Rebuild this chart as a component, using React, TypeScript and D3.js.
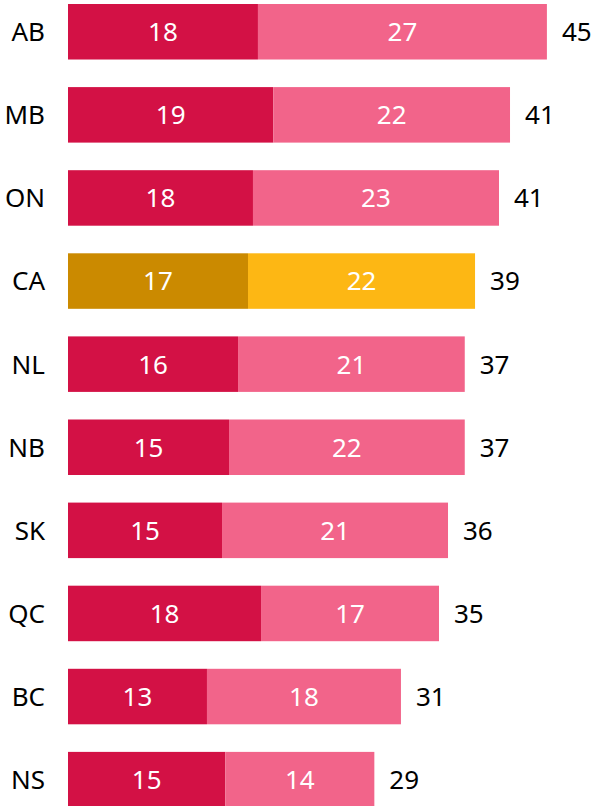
import React from 'react';
import * as d3 from 'd3';

// provinces, top to bottom
const provinces = ['AB', 'MB', 'ON', 'CA', 'NL', 'NB', 'SK', 'QC', 'BC', 'NS'];

// first (dark) and second (light) segment
const firstValues = [17.92, 19.37, 17.45, 16.98, 16.04, 15.19, 14.53, 18.21, 13.11, 14.84];
const secondValues = [27.26, 22.33, 23.21, 21.42, 21.39, 22.24, 21.32, 16.79, 18.30, 14.06];

// labels as printed on the chart
const firstLabels = ['18', '19', '18', '17', '16', '15', '15', '18', '13', '15'];
const secondLabels = ['27', '22', '23', '22', '21', '22', '21', '17', '18', '14'];
const totalLabels = ['45', '41', '41', '39', '37', '37', '36', '35', '31', '29'];

const W = 598, H = 806;
const font = "'Noto Sans', 'Open Sans', sans-serif";

const colors = {
    dark: '#d31145',
    light: '#f2648a',
    darkCA: '#cb8a00',
    lightCA: '#fdb714'
};

const App = () => {
    const x = d3.scaleLinear().domain([0, 50]).range([68, 598]);
    const y = d3.scaleBand<string>()
        .domain(provinces)
        .range([4, 807.4])
        .paddingInner(0.332)
        .paddingOuter(0);
    const bh = y.bandwidth();

    return (
        <svg width={W} height={H} style={{ position: 'absolute', left: 0, top: 0, display: 'block' }}
            fontFamily={font} fontSize={26}>
            {provinces.map((p, i) => {
                const y0 = y(p) as number;
                const cy = y0 + bh / 2;
                const isCA = p === 'CA';
                const x1 = x(firstValues[i]);
                const x2 = x(firstValues[i] + secondValues[i]);
                return (
                    <g key={p}>
                        <text x={45} y={cy} dy="0.36em" textAnchor="end" fill="#000">{p}</text>
                        <rect x={x(0)} y={y0} width={x1 - x(0)} height={bh}
                            fill={isCA ? colors.darkCA : colors.dark} />
                        <rect x={x1} y={y0} width={x2 - x1} height={bh}
                            fill={isCA ? colors.lightCA : colors.light} />
                        <text x={(x(0) + x1) / 2} y={cy} dy="0.36em" textAnchor="middle" fill="#fff">
                            {firstLabels[i]}
                        </text>
                        <text x={(x1 + x2) / 2} y={cy} dy="0.36em" textAnchor="middle" fill="#fff">
                            {secondLabels[i]}
                        </text>
                        <text x={x2 + 15} y={cy} dy="0.36em" fill="#000">{totalLabels[i]}</text>
                    </g>
                );
            })}
        </svg>
    );
};

export default App;
